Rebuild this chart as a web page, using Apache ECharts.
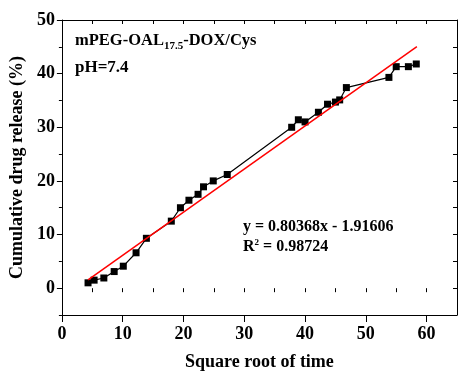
<!DOCTYPE html>
<html>
<head>
<meta charset="utf-8">
<script src="https://cdn.jsdelivr.net/npm/echarts@6/dist/echarts.min.js"></script>
<style>
  html, body { margin: 0; padding: 0; background: #fff; }
  #chart { width: 458px; height: 379px; }
</style>
</head>
<body>
<div id="chart"></div>
<script>
// release data
const sqrtTime = [4.3, 5.3, 6.9, 8.6, 10.1, 12.2, 13.9, 18.0, 19.5, 20.9, 22.4, 23.3, 24.9, 27.2,
  37.8, 38.9, 40.0, 42.2, 43.7, 45.0, 45.7, 46.8, 53.8, 55.0, 57.0, 58.3]
const release = [1.0, 1.5, 1.9, 3.1, 4.1, 6.6, 9.3, 12.5, 15.0, 16.4, 17.5, 18.9, 20.0, 21.2,
  30.0, 31.4, 31.0, 32.8, 34.3, 34.7, 35.1, 37.4, 39.3, 41.3, 41.3, 41.8]

// linear fit printed on the chart
const fitSlope = 0.80368
const fitIntercept = -1.91606
const fitR2 = 0.98724
const fitXRange = [4.3, 58.4]

// tick labels
const xTicks = [0, 10, 20, 30, 40, 50, 60]
const yTicks = [0, 10, 20, 30, 40, 50]

const FONT = '"Liberation Serif", "Times New Roman", serif'

const chart = echarts.init(document.getElementById('chart'))

const lineData = sqrtTime.map((x, i) => [x, release[i]])
const fitData = fitXRange.map((x) => [x, fitSlope * x + fitIntercept])

const axisLine = { show: true, onZero: false, lineStyle: { color: '#000', width: 1 } }
const hidden = { show: false }

chart.setOption({
  backgroundColor: '#fff',
  animation: false,
  grid: { left: 61, right: 1, top: 20, bottom: 64 },
  xAxis: [
    {
      type: 'value', position: 'bottom', min: 0, max: 65, interval: 10,
      axisLine,
      axisTick: { show: true, length: 7, lineStyle: { color: '#000' }, customValues: xTicks },
      axisLabel: {
        customValues: xTicks, margin: 10, color: '#000',
        fontFamily: FONT, fontWeight: 'bold', fontSize: 18,
      },
      splitLine: hidden,
      name: 'Square root of time', nameLocation: 'middle', nameGap: 38,
      nameTextStyle: { color: '#000', fontFamily: FONT, fontWeight: 'bold', fontSize: 18 },
    },
    {
      type: 'value', position: 'bottom', min: 0, max: 65, interval: 5,
      axisLine: hidden,
      axisTick: { show: true, length: 4, lineStyle: { color: '#000' } },
      axisLabel: hidden, splitLine: hidden,
    },
    {
      type: 'value', position: 'top', min: 0, max: 65, interval: 5,
      axisLine,
      axisTick: { show: true, inside: true, length: 4, lineStyle: { color: '#000' } },
      axisLabel: hidden, splitLine: hidden,
    },
  ],
  yAxis: [
    {
      type: 'value', position: 'left', min: -5, max: 50, interval: 5,
      axisLine,
      axisTick: { show: true, length: 5, lineStyle: { color: '#000' }, customValues: yTicks },
      axisLabel: {
        customValues: yTicks, margin: 7, color: '#000',
        fontFamily: FONT, fontWeight: 'bold', fontSize: 18,
      },
      splitLine: hidden,
      name: 'Cumulative drug release (%)', nameLocation: 'middle', nameGap: 35,
      nameTextStyle: { color: '#000', fontFamily: FONT, fontWeight: 'bold', fontSize: 18 },
    },
    {
      type: 'value', position: 'left', min: -5, max: 50, interval: 5,
      axisLine: hidden,
      axisTick: { show: true, length: 3, lineStyle: { color: '#000' } },
      axisLabel: hidden, splitLine: hidden,
    },
    {
      type: 'value', position: 'right', min: -5, max: 50, interval: 5,
      axisLine,
      axisTick: { show: true, inside: true, length: 4, lineStyle: { color: '#000' } },
      axisLabel: hidden, splitLine: hidden,
    },
  ],
  graphic: [
    {
      type: 'text', left: 75, top: 32,
      style: {
        text: 'mPEG-OAL{sub|17.5}-DOX/Cys',
        fontFamily: FONT, fontWeight: 'bold', fontSize: 16.5, fill: '#000',
        rich: {
          sub: { fontFamily: FONT, fontWeight: 'bold', fontSize: 11, padding: [12, 0, 0, 0] },
        },
      },
    },
    {
      type: 'text', left: 75, top: 59,
      style: { text: 'pH=7.4', fontFamily: FONT, fontWeight: 'bold', fontSize: 17, fill: '#000' },
    },
    {
      type: 'text', left: 243, top: 219,
      style: {
        text: `y = ${fitSlope}x - ${Math.abs(fitIntercept)}`,
        fontFamily: FONT, fontWeight: 'bold', fontSize: 16, fill: '#000',
      },
    },
    {
      type: 'text', left: 243, top: 238,
      style: {
        text: `R{sup|2} = ${fitR2}`,
        fontFamily: FONT, fontWeight: 'bold', fontSize: 16, fill: '#000',
        rich: {
          sup: { fontFamily: FONT, fontWeight: 'bold', fontSize: 9, padding: [0, 0, 8, 0] },
        },
      },
    },
  ],
  series: [
    {
      name: 'release', type: 'line', xAxisIndex: 0, yAxisIndex: 0,
      data: lineData,
      symbol: 'rect', symbolSize: 7,
      itemStyle: { color: '#000' },
      lineStyle: { color: '#000', width: 1.2 },
      z: 3,
    },
    {
      name: 'fit', type: 'line', xAxisIndex: 0, yAxisIndex: 0,
      data: fitData,
      symbol: 'none',
      lineStyle: { color: '#ff0000', width: 1.5 },
      z: 4,
    },
  ],
})
</script>
</body>
</html>
